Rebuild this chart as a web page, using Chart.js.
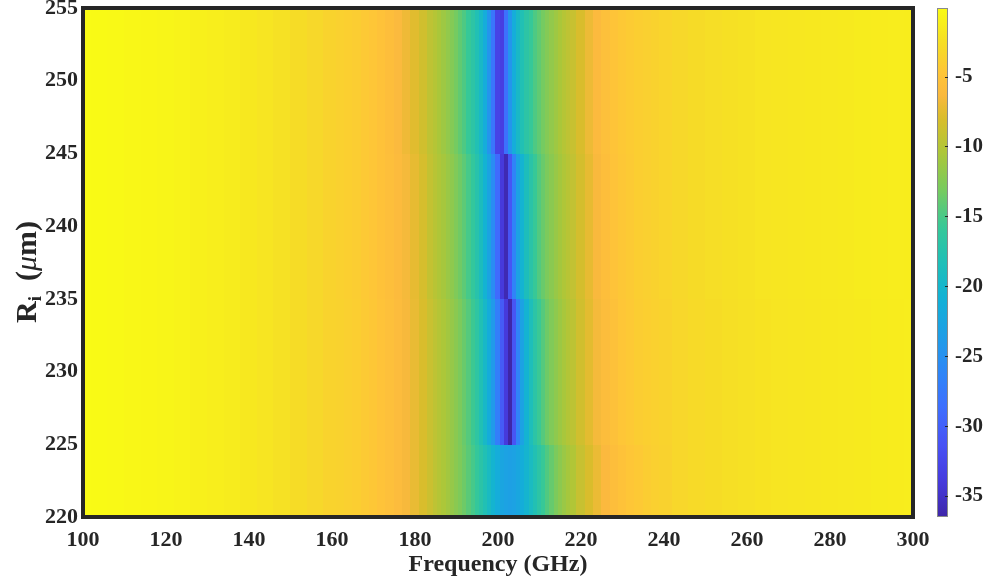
<!DOCTYPE html>
<html><head><meta charset="utf-8">
<script src="https://cdn.jsdelivr.net/npm/chart.js@4.4.0/dist/chart.umd.min.js"></script>
<style>html,body{margin:0;padding:0;background:#fff;}#wrap{position:relative;width:986px;height:581px;}</style>
</head><body><div id="wrap"><canvas id="c" width="986" height="581"></canvas></div>
<script>
// ---- data ----
const FREQ = [100,104,108,112,116,120,124,128,132,136,140,144,148,152,156,160,
  162,164,166,168,170,172,174,176,178,180,182,184,
  185,186,187,188,189,190,191,192,193,194,195,196,197,198,199,200,201,202,203,204,205,206,207,208,209,210,211,212,213,214,215,216,217,
  218,220,222,224,226,228,230,232,234,236,238,240,
  244,248,252,256,260,264,268,272,276,280,284,288,292,296,300];
const ROW_EDGES = [220,225,235,245,255];
const ROW_220_225 = [-0.1,-0.2,-0.3,-0.4,-0.5,-0.6,-0.8,-1.0,-1.2,-1.4,-1.7,-2.0,-2.3,-2.7,-3.1,-3.5,
  -3.6,-3.8,-4.0,-4.3,-4.6,-5.0,-5.4,-5.9,-6.5,-7.2,-8.0,-8.8,
  -9.5,-10.0,-10.5,-11.0,-11.6,-12.2,-12.8,-13.5,-14.3,-15.1,-16.0,-17.0,-18.0,-19.2,-20.4,-21.5,-22.5,-23.0,-23.2,-23.0,-22.4,-21.4,-20.3,-19.1,-17.9,-16.8,-15.7,-14.7,-13.8,-12.9,-12.1,-11.4,-10.8,
  -10.2,-9.0,-8.0,-7.1,-6.3,-5.6,-5.1,-4.7,-4.4,-4.1,-3.8,-3.6,
  -3.2,-2.9,-2.7,-2.5,-2.3,-2.1,-2.0,-1.9,-1.8,-1.7,-1.6,-1.5,-1.4,-1.35,-1.3];
const ROW_225_235 = [-0.1,-0.2,-0.3,-0.4,-0.5,-0.6,-0.8,-1.0,-1.2,-1.4,-1.7,-2.0,-2.3,-2.7,-3.1,-3.5,
  -3.6,-3.8,-4.0,-4.3,-4.6,-5.0,-5.4,-5.9,-6.5,-7.2,-8.0,-8.9,
  -9.5,-10.0,-10.5,-11.0,-11.6,-12.2,-12.9,-13.7,-14.5,-15.5,-16.6,-18.0,-19.6,-21.6,-24.0,-27.0,-30.5,-34.0,-36.5,-31.0,-26.5,-23.0,-20.5,-18.5,-16.9,-15.6,-14.5,-13.5,-12.7,-12.0,-11.3,-10.7,-10.1,
  -9.6,-8.5,-7.5,-6.6,-5.8,-5.2,-4.7,-4.4,-4.1,-3.9,-3.7,-3.5,
  -3.2,-2.9,-2.7,-2.5,-2.3,-2.1,-2.0,-1.9,-1.8,-1.7,-1.6,-1.5,-1.4,-1.35,-1.3];
const ROW_235_245 = [-0.1,-0.2,-0.3,-0.4,-0.5,-0.6,-0.8,-1.0,-1.2,-1.4,-1.7,-2.0,-2.3,-2.7,-3.1,-3.5,
  -3.7,-3.9,-4.1,-4.4,-4.7,-5.1,-5.5,-6.0,-6.6,-7.3,-8.2,-9.2,
  -9.8,-10.3,-10.8,-11.4,-12.0,-12.7,-13.4,-14.2,-15.1,-16.1,-17.3,-18.8,-20.6,-22.8,-25.5,-29.0,-34.0,-36.0,-31.0,-26.5,-23.0,-20.5,-18.6,-17.0,-15.7,-14.6,-13.7,-12.9,-12.2,-11.5,-10.9,-10.3,-9.8,
  -9.3,-8.3,-7.3,-6.4,-5.6,-5.0,-4.6,-4.3,-4.0,-3.8,-3.6,-3.4,
  -3.1,-2.8,-2.6,-2.4,-2.2,-2.0,-1.9,-1.8,-1.7,-1.6,-1.5,-1.4,-1.35,-1.3,-1.25];
const ROW_245_255 = [-0.1,-0.2,-0.3,-0.4,-0.5,-0.6,-0.8,-1.0,-1.2,-1.4,-1.7,-2.0,-2.3,-2.7,-3.1,-3.5,
  -3.7,-3.9,-4.1,-4.4,-4.7,-5.1,-5.6,-6.2,-6.9,-7.6,-8.5,-9.5,
  -10,-10.6,-11.2,-11.8,-12.5,-13.2,-14,-14.8,-15.8,-16.8,-18,-19.5,-21.5,-24.5,-28,-33,-33.5,-28.5,-24.5,-21.5,-19.5,-18,-16.8,-15.8,-14.8,-14,-13.2,-12.5,-11.8,-11.2,-10.6,-10,-9.5,
  -9.0,-8.0,-7.0,-6.1,-5.4,-4.9,-4.5,-4.2,-4.0,-3.8,-3.6,-3.4,
  -3.1,-2.8,-2.6,-2.4,-2.2,-2.0,-1.9,-1.8,-1.7,-1.6,-1.5,-1.4,-1.35,-1.3,-1.25];
const ROWS = [ROW_220_225, ROW_225_235, ROW_235_245, ROW_245_255];
const X_TICKS = [100,120,140,160,180,200,220,240,260,280,300];
const Y_TICKS = [220,225,230,235,240,245,250,255];
const CB_TICKS = [-35,-30,-25,-20,-15,-10,-5];
const X_TITLE = 'Frequency (GHz)';

// ---- colormap (parula-like) ----
const CMAP = [
  [0.000,[0.2422,0.1504,0.6603]],
  [0.071,[0.2740,0.2300,0.8700]],
  [0.143,[0.2810,0.3228,0.9579]],
  [0.214,[0.2440,0.4310,0.9960]],
  [0.286,[0.1786,0.5289,0.9682]],
  [0.357,[0.1200,0.6200,0.9000]],
  [0.429,[0.0689,0.6948,0.8394]],
  [0.500,[0.1200,0.7480,0.7200]],
  [0.571,[0.2161,0.7843,0.5923]],
  [0.643,[0.4700,0.7950,0.3700]],
  [0.714,[0.6720,0.7793,0.2227]],
  [0.786,[0.8600,0.7400,0.1700]],
  [0.830,[0.9850,0.7250,0.2450]],
  [0.870,[0.9970,0.7700,0.2200]],
  [0.929,[0.9640,0.8650,0.1500]],
  [1.000,[0.9769,0.9839,0.0805]]
];
function cmap(t){
  t=Math.max(0,Math.min(1,t));
  for(let i=1;i<CMAP.length;i++){
    if(t<=CMAP[i][0]){
      const [t0,c0]=CMAP[i-1],[t1,c1]=CMAP[i];
      const u=(t-t0)/(t1-t0);
      const c=c0.map((v,k)=>Math.round(255*(v+(c1[k]-v)*u)));
      return `rgb(${c[0]},${c[1]},${c[2]})`;
    }
  }
  const c=CMAP[CMAP.length-1][1];
  return `rgb(${Math.round(c[0]*255)},${Math.round(c[1]*255)},${Math.round(c[2]*255)})`;
}
const ALL = ROWS.flat();
const CMIN = Math.min(...ALL), CMAX = Math.max(...ALL);

const FONT = '"Liberation Serif","Times New Roman",serif';
const TXT = '#262626';

const datasets = ROWS.map((vals,r)=>({
  type:'scatter',
  data: FREQ.map((f,i)=>({x:f, y:(ROW_EDGES[r]+ROW_EDGES[r+1])/2, v:vals[i], r:r})),
  pointRadius:0, showLine:false
}));

const heatPlugin = {
  id:'heat',
  beforeDatasetsDraw(chart){
    const {ctx, chartArea:a, scales:{x,y}} = chart;
    ctx.save();
    ctx.beginPath(); ctx.rect(a.left,a.top,a.right-a.left,a.bottom-a.top); ctx.clip();
    chart.data.datasets.forEach(ds=>{
      ds.data.forEach((p,i)=>{
        const n=FREQ.length;
        const fl = i===0?FREQ[0]:(FREQ[i-1]+FREQ[i])/2;
        const fr = i===n-1?FREQ[n-1]:(FREQ[i]+FREQ[i+1])/2;
        const pl = Math.floor(x.getPixelForValue(fl)), pr = Math.ceil(x.getPixelForValue(fr));
        const pt = Math.floor(y.getPixelForValue(ROW_EDGES[p.r+1])), pb = Math.ceil(y.getPixelForValue(ROW_EDGES[p.r]));
        ctx.fillStyle = cmap((p.v-CMIN)/(CMAX-CMIN));
        ctx.fillRect(pl,pt,pr-pl+0.5,pb-pt);
      });
    });
    ctx.restore();
  },
  afterDraw(chart){
    const {ctx, chartArea:a, scales} = chart;
    ctx.save();
    ctx.strokeStyle = TXT; ctx.lineWidth = 4;
    ctx.strokeRect(a.left, a.top, a.right-a.left, a.bottom-a.top);
    // colorbar
    const cb = scales.cb;
    const x0 = a.right+24, w = 11;
    const top = cb.getPixelForValue(CMAX), bot = cb.getPixelForValue(CMIN);
    const g = ctx.createLinearGradient(0,bot,0,top);
    for(let k=0;k<=64;k++){ g.addColorStop(k/64, cmap(k/64)); }
    ctx.fillStyle = g;
    ctx.fillRect(x0, top, w, bot-top);
    ctx.strokeStyle = '#8a8a8a'; ctx.lineWidth = 1;
    ctx.strokeRect(x0+0.5, top+0.5, w-1, bot-top-1);
    ctx.strokeStyle = TXT; ctx.lineWidth = 1;
    CB_TICKS.forEach(v=>{
      const py = Math.round(cb.getPixelForValue(v))+0.5;
      ctx.beginPath(); ctx.moveTo(x0+w-3,py); ctx.lineTo(x0+w,py); ctx.stroke();
    });
    // y-axis title with subscript
    ctx.translate(36, 272);
    ctx.rotate(-Math.PI/2);
    ctx.fillStyle = TXT; ctx.textBaseline = 'alphabetic';
    const parts = [
      {t:'R', f:`bold 30px ${FONT}`, dy:0},
      {t:'i', f:`bold 19px ${FONT}`, dy:5},
      {t:'  (', f:`bold 30px ${FONT}`, dy:0},
      {t:'\u03BC', f:`italic 30px ${FONT}`, dy:0},
      {t:'m)', f:`bold 30px ${FONT}`, dy:0}
    ];
    let total=0; parts.forEach(p=>{ctx.font=p.f; p.w=ctx.measureText(p.t).width; total+=p.w;});
    let cx=-total/2;
    parts.forEach(p=>{ctx.font=p.f; ctx.fillText(p.t, cx, p.dy); cx+=p.w;});
    ctx.restore();
  }
};

function zeroPad(s){ s.paddingTop=0; s.paddingBottom=0; }

new Chart(document.getElementById('c'), {
  type:'scatter',
  data:{datasets},
  options:{
    responsive:false, animation:false, devicePixelRatio:1,
    layout:{padding:{top:8,left:0,right:0,bottom:0}},
    plugins:{legend:{display:false}, tooltip:{enabled:false}},
    scales:{
      x:{type:'linear', position:'bottom', min:100, max:300,
        afterBuildTicks:s=>{s.ticks=X_TICKS.map(v=>({value:v}));},
        afterFit:s=>{s.height=64; s.paddingLeft=0; s.paddingRight=0;},
        grid:{display:false, drawTicks:false}, border:{display:false},
        ticks:{font:{family:FONT,size:22,weight:'bold'}, color:TXT, padding:10, maxRotation:0, autoSkip:false},
        title:{display:true, text:X_TITLE, font:{family:FONT,size:24,weight:'bold'}, color:TXT, padding:{top:0,bottom:2}}
      },
      y:{type:'linear', position:'left', min:220, max:255,
        afterBuildTicks:s=>{s.ticks=Y_TICKS.map(v=>({value:v}));},
        afterFit:s=>{s.width=83; zeroPad(s);},
        grid:{display:false, drawTicks:false}, border:{display:false},
        ticks:{font:{family:FONT,size:22,weight:'bold'}, color:TXT, padding:5, autoSkip:false}
      },
      cb:{type:'linear', axis:'y', position:'right', min:CMIN, max:CMAX,
        afterBuildTicks:s=>{s.ticks=CB_TICKS.map(v=>({value:v}));},
        afterFit:s=>{s.width=73; zeroPad(s);},
        grid:{display:false, drawTicks:false}, border:{display:false},
        ticks:{font:{family:FONT,size:21,weight:'bold'}, color:TXT, padding:42, autoSkip:false}
      }
    }
  },
  plugins:[heatPlugin]
});
</script></body></html>
